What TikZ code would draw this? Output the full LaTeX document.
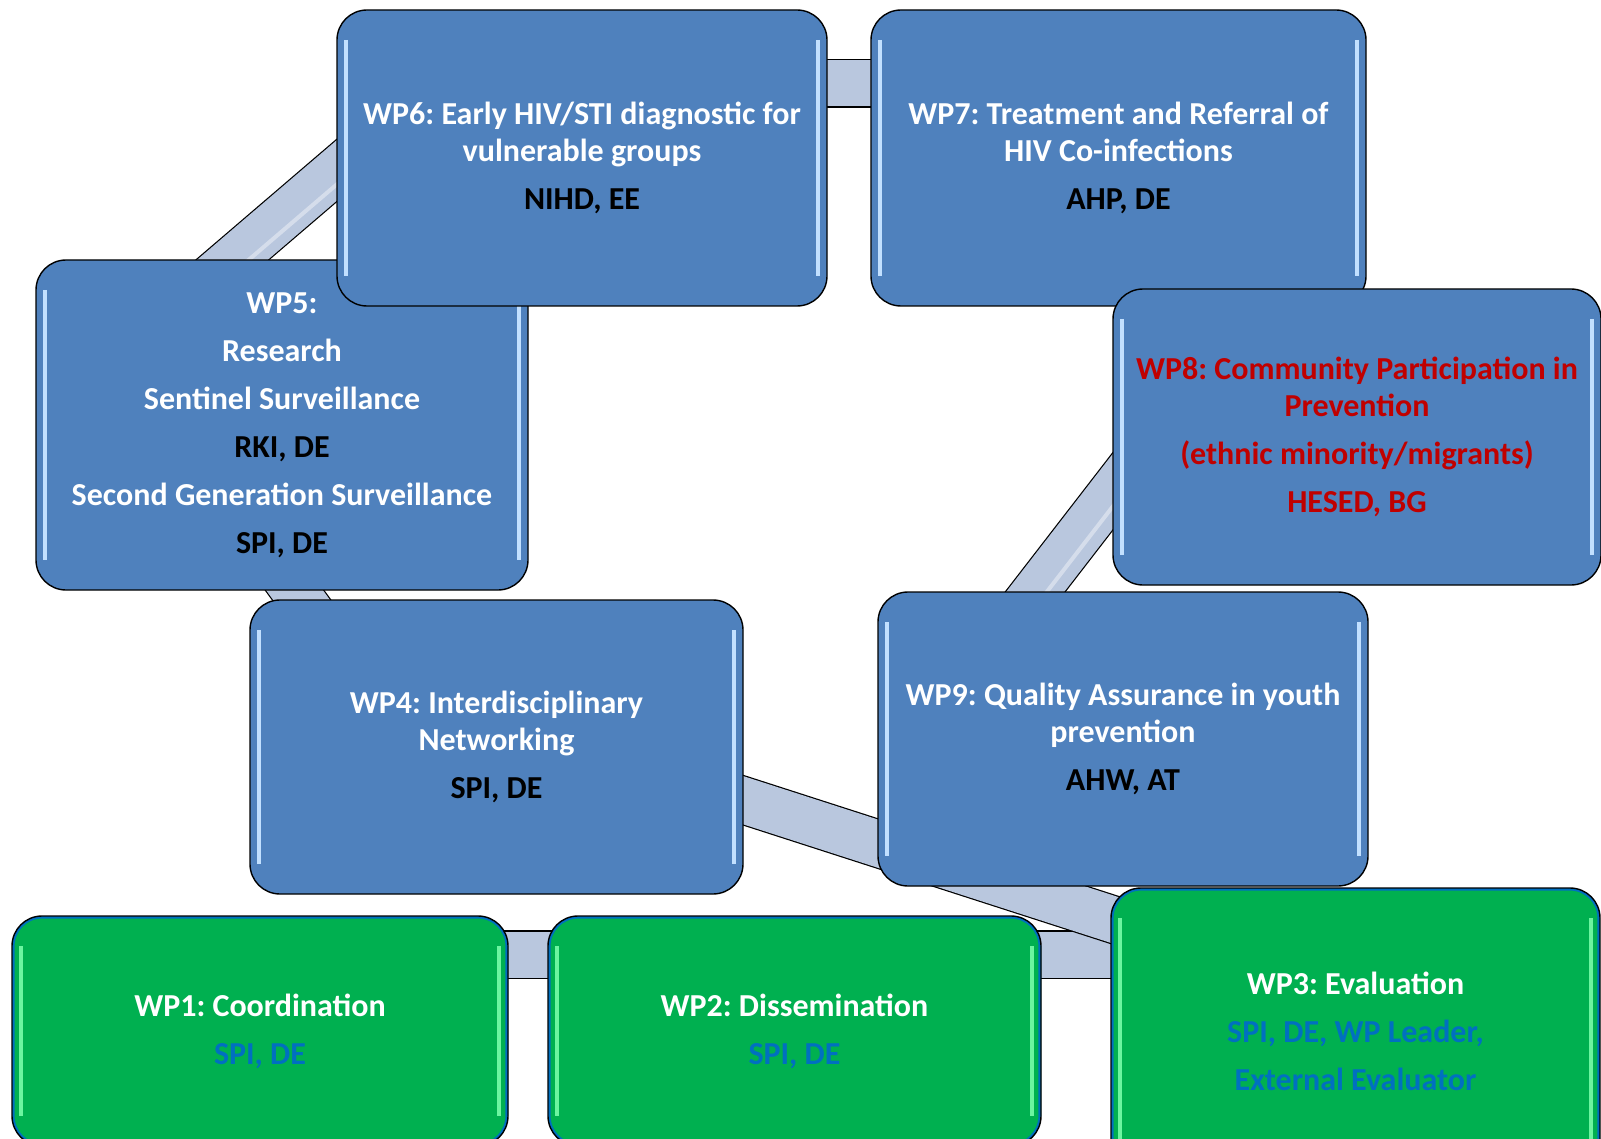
\documentclass[tikz,border=0pt]{standalone}
\usepackage{fontspec}
\setmainfont{Carlito}
\usetikzlibrary{calc}

\definecolor{wpblue}{HTML}{4F81BD}
\definecolor{wpgreen}{HTML}{00B050}
\definecolor{bandfill}{HTML}{B9C7DE}
\definecolor{partnerblue}{HTML}{0070C0}
\definecolor{wpred}{HTML}{C00000}
\definecolor{glintblue}{HTML}{C2E0FF}
\definecolor{glintgreen}{HTML}{6CF5A0}

\pgfdeclarelayer{background}
\pgfsetlayers{background,main}

\frenchspacing
\newcommand\wpfont{\fontsize{16}{18.5}\selectfont\bfseries}
%% light stripes along the left and right edge of a box
\newcommand\wpglints[1]{%
  \draw[#1, line width=2pt]
    ([xshift=4.5pt,yshift=-15pt]path picture bounding box.north west) --
    ([xshift=4.5pt,yshift=15pt]path picture bounding box.south west);
  \draw[#1, line width=2pt]
    ([xshift=-4.5pt,yshift=-15pt]path picture bounding box.north east) --
    ([xshift=-4.5pt,yshift=15pt]path picture bounding box.south east);
}
\newcommand\wprim[1]{%
  \draw[#1, line width=2.6pt, rounded corners=15pt]
    (path picture bounding box.north west) rectangle (path picture bounding box.south east);
}

\tikzset{
  wpbox/.style={rounded corners=15pt, draw=black, line width=0.7pt,
    align=center, inner sep=0pt, font=\wpfont, text=white,
    execute at begin node={\rule{0pt}{15pt}}},
  bluebox/.style={wpbox, fill=wpblue, path picture={\wpglints{glintblue}}},
  greenbox/.style={wpbox, fill=wpgreen,
    path picture={\wprim{partnerblue}\wpglints{glintgreen}}},
  band/.style={draw=black, line width=0.6pt, double=bandfill, double distance=23pt},
  bandglint/.style={draw=white, opacity=0.4, line width=2pt},
}

\begin{document}
\begin{tikzpicture}[x=0.5pt,y=-0.5pt]
  \useasboundingbox (0,0) rectangle (1601,1139);
  \clip (0,0) rectangle (1601,1139);

  %% Research and prevention work packages
  \node[bluebox, minimum width=246pt, minimum height=165pt] (wp5) at (282,425)
    {WP5:\\[5.5pt] Research\\[5.5pt] Sentinel Surveillance\\[5.5pt]
     \textcolor{black}{RKI, DE}\\[5.5pt] Second Generation Surveillance\\[5.5pt]
     \textcolor{black}{SPI, DE}};
  \node[bluebox, minimum width=245pt, minimum height=148pt] (wp6) at (582,158)
    {WP6: Early HIV/STI diagnostic for\\ vulnerable groups\\[5.5pt]
     \textcolor{black}{NIHD, EE}};
  \node[bluebox, minimum width=247.5pt, minimum height=148pt] (wp7) at (1118.5,158)
    {WP7: Treatment and Referral of\\ HIV Co-infections\\[5.5pt]
     \textcolor{black}{AHP, DE}};
  \node[bluebox, text=wpred, minimum width=244pt, minimum height=148pt] (wp8) at (1357,437)
    {WP8: Community Participation in\\ Prevention\\[5.5pt]
     (ethnic minority/migrants)\\[5.5pt] HESED, BG};
  \node[bluebox, minimum width=246.5pt, minimum height=147pt] (wp4) at (496.5,747)
    {WP4: Interdisciplinary\\ Networking\\[5.5pt] \textcolor{black}{SPI, DE}};
  \node[bluebox, minimum width=245pt, minimum height=147pt] (wp9) at (1123,739)
    {WP9: Quality Assurance in youth\\ prevention\\[5.5pt]
     \textcolor{black}{AHW, AT}};

  %% Management work packages
  \node[greenbox, minimum width=248pt, minimum height=115pt] (wp1) at (260,1031)
    {WP1: Coordination\\[5.5pt] \textcolor{partnerblue}{SPI, DE}};
  \node[greenbox, minimum width=246.5pt, minimum height=115pt] (wp2) at (794.5,1031)
    {WP2: Dissemination\\[5.5pt] \textcolor{partnerblue}{SPI, DE}};
  \node[greenbox, minimum width=244.5pt, minimum height=143pt] (wp3) at (1355.5,1031)
    {WP3: Evaluation\\[5.5pt] \textcolor{partnerblue}{SPI, DE, WP Leader,}\\[5.5pt]
     \textcolor{partnerblue}{External Evaluator}};

  %% Bands linking the boxes
  \begin{pgfonlayer}{background}
    \draw[band] ($(wp1.east)+(-28,-76.5)$) -- ($(wp3.west)+(29,-76.5)$);
    \draw[band] ($(wp4.east)+(-43,39.5)$) -- ($(wp3.north west)+(89,60)$);
    \draw[band] ($(wp5.north west)+(151,40)$) -- ($(wp6.west)+(43,-24)$);
    \draw[bandglint] ($(wp5.north west)+(158,48)$) -- ($(wp6.west)+(50,-16)$);
    \draw[band] ($(wp6.east)+(-27,-74.5)$) -- ($(wp7.west)+(29,-74.5)$);
    \draw[band] ($(wp5.south)+(-14,-37)$) -- ($(wp4.north)+(-168.5,37)$);
    \draw[band] ($(wp9.north west)+(139,25)$) -- ($(wp8.west)+(34,11)$);
    \draw[bandglint] ($(wp9.north west)+(146,31)$) -- ($(wp8.west)+(41,17)$);
  \end{pgfonlayer}
\end{tikzpicture}
\end{document}
